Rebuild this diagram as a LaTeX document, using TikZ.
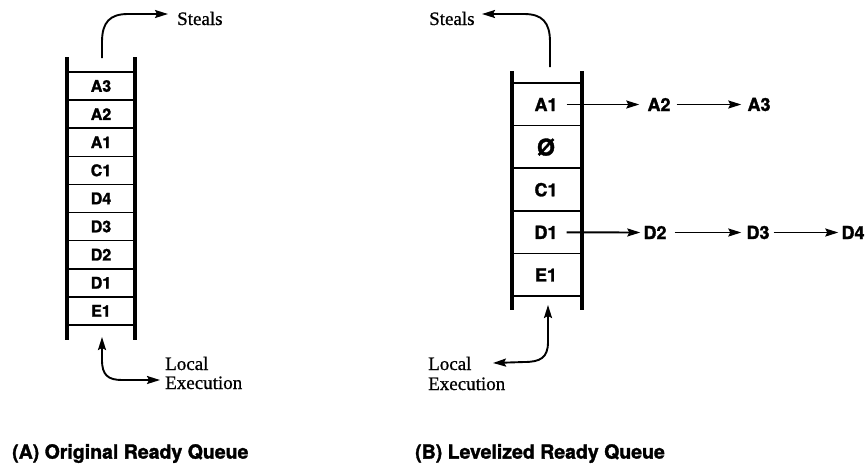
\documentclass[tikz,border=0pt]{standalone}
\usepackage{fontspec}
\setmainfont{Liberation Serif}
\newfontfamily\serifheavy{Liberation Serif}[FakeBold=0.8]
\newfontfamily\hvfont{TeX Gyre Heros}[BoldFeatures={FakeBold=1.6}]
\usetikzlibrary{arrows.meta}
\tikzset{
  rail/.style={line width=3.6pt},
  rung/.style={line width=1.6pt},
  arr/.style={line width=1.9pt,-{Stealth[length=13pt,width=8pt,inset=2pt]}},
  darr/.style={line width=1.9pt,{Stealth[length=13pt,width=8pt,inset=2pt]}-{Stealth[length=13pt,width=8pt,inset=2pt]}},
  lblA/.style={font=\hvfont\bfseries\fontsize{16}{16}\selectfont,inner sep=0pt},
  lblB/.style={font=\hvfont\bfseries\fontsize{18}{18}\selectfont,inner sep=0pt},
  serif/.style={font=\serifheavy\fontsize{19}{19}\selectfont,inner sep=0pt,anchor=base west},
  capt/.style={font=\hvfont\bfseries\fontsize{19.5}{19.5}\selectfont,inner sep=0pt,anchor=west}
}
\begin{document}
\begin{tikzpicture}[x=1pt,y=-1pt]
\useasboundingbox (0,0) rectangle (868,467);
% ---------- (A) original queue ----------
\draw[rail] (67,57) -- (67,340);
\draw[rail] (135,57) -- (135,340);
\foreach \k in {0,...,9}{
  \draw[rung] (67,{72+28.1*\k}) -- (135,{72+28.1*\k});
}
\foreach \t [count=\k from 0] in {A3,A2,A1,C1,D4,D3,D2,D1,E1}{
  \node[lblA] (qa\k) at (101,{86+28.1*\k}) {\t};
}
\node[serif] (stA) at (177,25) {Steals};
\coordinate (stA0) at (102,58);
\coordinate (stA1) at (168,14);
\draw[arr] (stA0) -- (102,42) .. controls (102,22) and (110,14) .. (128,14) -- (stA1);
\node[serif] (locA) at (165,370) {Local};
\node[serif] (exeA) at (165,389) {Execution};
\coordinate (leA0) at (102,337);
\coordinate (leA1) at (160,380);
\draw[darr] (leA0) -- (102,360) .. controls (102,375) and (108,380) .. (122,380) -- (leA1);
\node[capt] (captA) at (12,453.5) {(A) Original Ready Queue};
% ---------- (B) levelized queue ----------
\draw[rail] (512,71) -- (512,310);
\draw[rail] (582,71) -- (582,310);
\foreach \k in {0,...,5}{
  \draw[rung] (512,{83+42.6*\k}) -- (582,{83+42.6*\k});
}
\foreach \t [count=\k from 0] in {A1,{\fontsize{23}{23}\selectfont Ø},C1,D1,E1}{
  \node[lblB] (qb\k) at (546,{104.5+42.6*\k}) {\t};
}
\node[lblB] (a2) at (659,104.5) {A2};
\node[lblB] (a3) at (759,104.5) {A3};
\node[lblB] (d2) at (655,232.5) {D2};
\node[lblB] (d3) at (758,232.5) {D3};
\node[lblB] (d4) at (853,232.5) {D4};
\draw[arr] ([xshift=9pt]qb0.east) -- ([xshift=-8pt]a2.west);
\draw[arr] ([xshift=6pt]a2.east) -- ([xshift=-6pt]a3.west);
\draw[arr] ([xshift=9pt]qb3.east) -- ([xshift=-3pt]d2.west);
\draw[arr] ([xshift=8pt]d2.east) -- ([xshift=-5pt]d3.west);
\draw[arr] ([xshift=4pt]d3.east) -- ([xshift=-3pt]d4.west);
\node[serif] (stB) at (429,25) {Steals};
\coordinate (stB0) at (550,67);
\coordinate (stB1) at (482,14);
\draw[arr] (stB0) -- (550,42) .. controls (550,22) and (542,14) .. (524,14) -- (stB1);
\node[serif] (locB) at (428,370) {Local};
\node[serif] (exeB) at (428,390) {Execution};
\coordinate (leB0) at (548,305);
\coordinate (leB1) at (493,363);
\draw[darr] (leB0) -- (548,342) .. controls (548,358) and (540,362) .. (524,362) -- (leB1);
\node[capt] (captB) at (415,453.5) {(B) Levelized Ready Queue};
\end{tikzpicture}
\end{document}
